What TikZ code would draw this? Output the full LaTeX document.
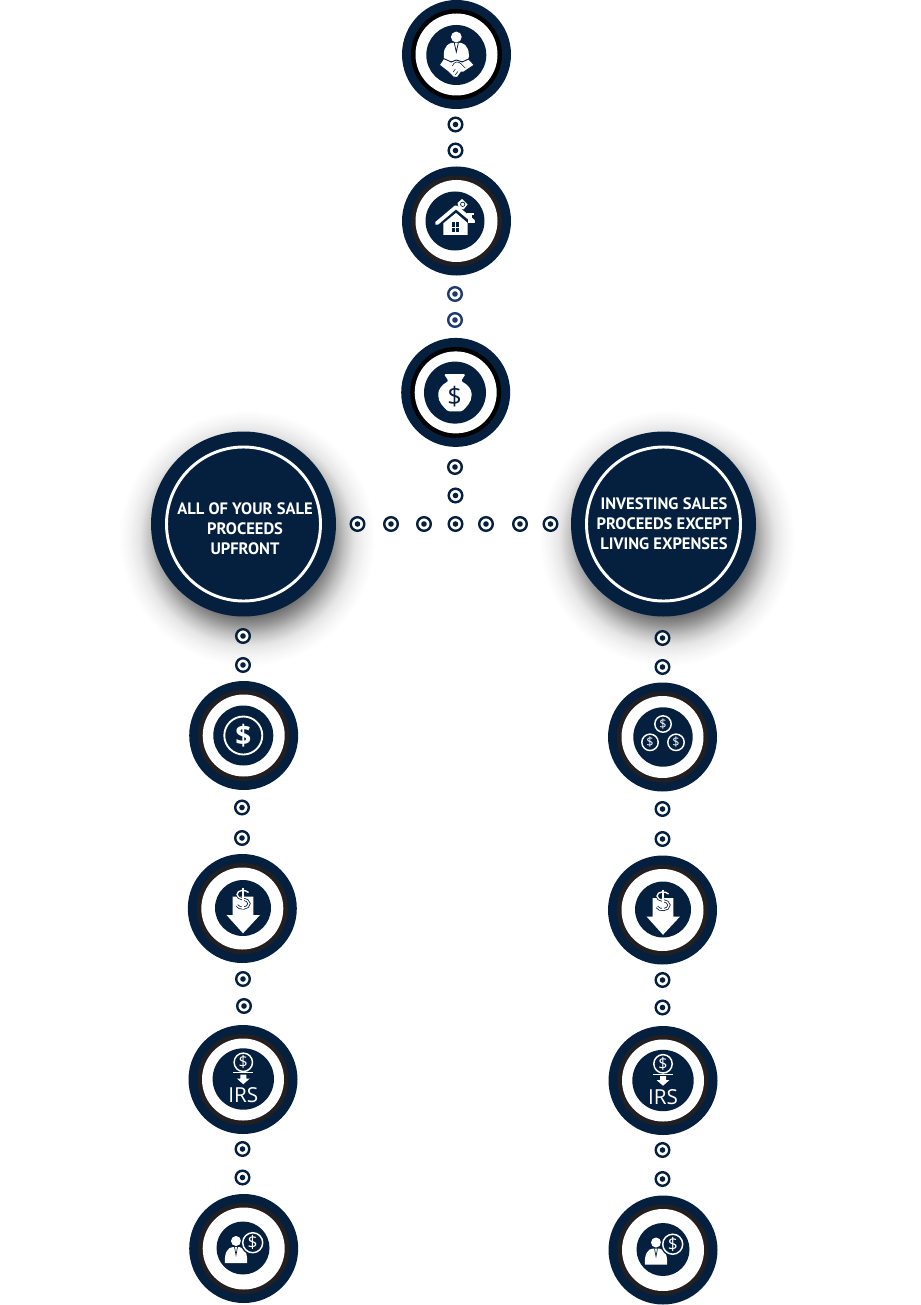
\documentclass[tikz,border=0pt]{standalone}
\usepackage{fontspec}
\setmainfont{Open Sans}
\newfontfamily\labelfont[BoldFont={PT Sans Bold}]{PT Sans}
\definecolor{navy}{HTML}{05203F}
\definecolor{dotblue}{HTML}{1F3A72}
\definecolor{bandgray}{HTML}{231F20}
\pgfdeclareradialshading{softglow}{\pgfpoint{0bp}{0bp}}{
  color(0bp)=(black!62);
  color(14.5bp)=(black!62);
  color(17bp)=(black!42);
  color(19bp)=(black!24);
  color(21bp)=(black!10);
  color(23bp)=(black!4);
  color(25bp)=(white);
  color(50bp)=(white)}
\tikzset{
  x=0.75pt,y=-0.75pt,
  disc/.style={circle,inner sep=0pt,outer sep=0pt,minimum size={2*#1*0.75pt}},
  dotmark/.style={circle,inner sep=0pt,outer sep=0pt,minimum size=10.2pt,line width=1.8pt,
    draw=#1,fill=white,path picture={\fill[#1] (path picture bounding box.center) circle (2.1pt);}},
  dotmark/.default=navy,
  headline/.style={text=white,align=center,font=\labelfont\bfseries\fontsize{12.4}{15}\selectfont,inner sep=0pt},
  glyph/.style={text=white,inner sep=0pt,outer sep=0pt,font=\fontsize{#1}{#1}\selectfont},
}
\newcommand{\badge}[5]{% name x y innerR band
  \node[disc=54.5,fill=navy] (#1) at (#2,#3) {};
  \node[disc=45.5,fill=#5] (#1band) at (#1) {};
  \node[disc=41,fill=white] (#1gap) at (#1) {};
}
\newcommand{\coin}[5]{% name x y r font
  \draw[white,line width=1.1pt] (#2,#3) circle (#4);
  \node[glyph=#5] (#1) at (#2,#3) {\$};
}
\begin{document}
\begin{tikzpicture}
\useasboundingbox (0,0) rectangle (920,1305);
\fill[white] (0,0) rectangle (920,1305);

% soft shadows
\shade[shading=softglow] (247,538) circle (128);
\shade[shading=softglow] (667,538) circle (128);

% big nodes
\node[disc=92.5,fill=navy] (bigL) at (243.5,524) {};
\node[disc=77,draw=white,line width=2.2pt] (bigLring) at (bigL) {};
\node[headline] (bigLtext) at (245,529) {ALL OF YOUR SALE\\PROCEEDS\\UPFRONT};
\node[disc=92.5,fill=navy] (bigR) at (663.5,524) {};
\node[disc=77,draw=white,line width=2.2pt] (bigRring) at (bigR) {};
\node[headline] (bigRtext) at (664,524) {INVESTING SALES\\PROCEEDS EXCEPT\\LIVING EXPENSES};

% badges
\badge{top}{456.5}{54.5}{30}{black}
\badge{house}{456.5}{221}{29.5}{bandgray}
\badge{bag}{455.7}{392.4}{31}{black}
\badge{la}{243.7}{735.5}{30}{bandgray}
\badge{lb}{242.3}{908.5}{28}{bandgray}
\badge{lc}{243}{1079.5}{30.7}{bandgray}
\badge{ld}{243.7}{1248.5}{26.5}{bandgray}
\badge{ra}{662.5}{737}{29.7}{bandgray}
\badge{rb}{662.5}{910}{28}{bandgray}
\badge{rc}{663}{1080.5}{30.7}{bandgray}
\badge{rd}{663}{1250}{26.5}{bandgray}

% inner discs
\node[disc=30,fill=navy] (topin) at (456.3,55) {};
\node[disc=29.5,fill=navy] (housein) at (455,221) {};
\node[disc=31,fill=navy] (bagin) at (455,392.6) {};
\node[disc=30,fill=navy] (lain) at (243.3,735.5) {};
\node[disc=28,fill=navy] (lbin) at (243,908) {};
\node[disc=30.7,fill=navy] (lcin) at (243.3,1079) {};
\node[disc=26.5,fill=navy] (ldin) at (243,1248) {};
\node[disc=29.7,fill=navy] (rain) at (663,737) {};
\node[disc=28,fill=navy] (rbin) at (663,909.5) {};
\node[disc=30.7,fill=navy] (rcin) at (663,1080.5) {};
\node[disc=26.5,fill=navy] (rdin) at (663,1249.5) {};

% --- handshake icon
\begin{scope}[shift={(456.3,55)}]
  \fill[white] (0,-18) circle (5.4);
  \fill[white] (-12,6) .. controls (-13.5,-3) and (-12,-10) .. (-5,-12) -- (5,-12) .. controls (12,-10) and (13.5,-3) .. (12,6) -- cycle;
  \draw[navy,line width=.6pt] (-2,-12) -- (0,-3) -- (2,-12);
  \fill[white,draw=navy,line width=.7pt] (-17,10) -- (-12.7,3.5) -- (-5,7) -- (0,5) -- (6,7) -- (12.3,4) -- (18,10) -- (7.5,17) -- (5,17) -- (1,22.5) -- (-3,22) -- (-8,17) -- cycle;
  \draw[navy,line width=.45pt] (-4,11) .. controls (-2,6) and (2,6) .. (5,9) -- (9,13);
  \draw[navy,line width=.45pt] (-3,17) -- (-1,14) (-1,20) -- (1.5,16.5);
\end{scope}

% --- house icon
\begin{scope}[shift={(455,221)}]
  \draw[white,line width=2.8pt,line cap=round,line join=round] (-18.3,2.3) -- (1,-14) -- (18.5,0.5);
  \fill[white] (-11.7,2.3) -- (1,-8) -- (12.7,2) -- (12.7,14) -- (-11.7,14) -- cycle;
  \fill[white] (13,-7) rectangle (17,2);
  \fill[white] (11.5,-8) rectangle (18.5,-6.2);
  \fill[navy] (-3.3,1.3) rectangle (4,10.7);
  \draw[white,line width=.7pt] (0.35,1.3) -- (0.35,10.7) (-3.3,6) -- (4,6);
  \fill[white] (2.5,-18) -- (7,-22) -- (12.5,-16.5) -- (8.5,-11.5) -- (4,-12.5) -- cycle;
  \draw[navy,line width=.5pt] (7.7,-16.7) circle (2.2);
\end{scope}

% --- money bag icon
\begin{scope}[shift={(455,392.6)}]
  \fill[white,rounded corners=1pt] (-11,-18.5) -- (10.5,-18.5) -- (6,-11.5)
    .. controls (13,-8) and (16.5,-3) .. (16.5,2)
    .. controls (16.5,9) and (12,14) .. (7,18.7) -- (-7,18.7)
    .. controls (-12,14) and (-16.7,9) .. (-16.7,2)
    .. controls (-16.7,-3) and (-13,-8) .. (-6.5,-11.5) -- cycle;
  \node[glyph=19,text=navy] (bagcash) at (-0.5,4) {\$};
\end{scope}

% --- single coin icon
\draw[white,line width=1.4pt] (lain) circle (19);
\node[glyph=21,font=\bfseries\fontsize{21}{21}\selectfont] (lacash) at (243.3,735.5) {\$};

% --- arrow icons
\begin{scope}[shift={(243,908)}]
  \fill[white] (-10.3,-11.3) -- (10.3,-11.3) -- (10.3,7) -- (17,7) -- (0,25.3) -- (-16.5,7) -- (-10.3,7) -- cycle;
  \draw[navy,line width=2.2pt] (5.5,-15.5) .. controls (3,-18.5) and (-6,-18.5) .. (-6,-13.5) .. controls (-6,-8) and (6,-10) .. (6,-4.5) .. controls (6,1) and (-4,1.5) .. (-6,-2.5);
  \draw[navy,line width=2.2pt] (0,-20) -- (0,0.5);
  \draw[white,line width=1pt] (5.5,-15.5) .. controls (3,-18.5) and (-6,-18.5) .. (-6,-13.5) .. controls (-6,-8) and (6,-10) .. (6,-4.5) .. controls (6,1) and (-4,1.5) .. (-6,-2.5);
  \draw[white,line width=1pt] (0,-20) -- (0,0.5);
\end{scope}
\begin{scope}[shift={(663,909.5)}]
  \fill[white] (-10.3,-11.3) -- (10.3,-11.3) -- (10.3,7) -- (17,7) -- (0,25.3) -- (-16.5,7) -- (-10.3,7) -- cycle;
  \draw[navy,line width=2.2pt] (5.5,-15.5) .. controls (3,-18.5) and (-6,-18.5) .. (-6,-13.5) .. controls (-6,-8) and (6,-10) .. (6,-4.5) .. controls (6,1) and (-4,1.5) .. (-6,-2.5);
  \draw[navy,line width=2.2pt] (0,-20) -- (0,0.5);
  \draw[white,line width=1pt] (5.5,-15.5) .. controls (3,-18.5) and (-6,-18.5) .. (-6,-13.5) .. controls (-6,-8) and (6,-10) .. (6,-4.5) .. controls (6,1) and (-4,1.5) .. (-6,-2.5);
  \draw[white,line width=1pt] (0,-20) -- (0,0.5);
\end{scope}

% --- IRS icons
\begin{scope}[shift={(243.3,1079)}]
  \coin{lcash}{0}{-16.7}{9.2}{12}
  \draw[white,line width=.9pt] (-10,-6.3) -- (10,-6.3);
  \fill[white] (-3,-4.5) -- (3,-4.5) -- (3,-0.5) -- (6.5,-0.5) -- (0,5.2) -- (-6.5,-0.5) -- (-3,-0.5) -- cycle;
  \node[glyph=15.5] (lirs) at (0,16.5) {IRS};
\end{scope}
\begin{scope}[shift={(663,1080.5)}]
  \coin{rcash}{0}{-16.7}{9.2}{12}
  \draw[white,line width=.9pt] (-10,-6.3) -- (10,-6.3);
  \fill[white] (-3,-4.5) -- (3,-4.5) -- (3,-0.5) -- (6.5,-0.5) -- (0,5.2) -- (-6.5,-0.5) -- (-3,-0.5) -- cycle;
  \node[glyph=15.5] (rirs) at (0,16.5) {IRS};
\end{scope}

% --- person + coin icons
\begin{scope}[shift={(243,1248)}]
  \fill[white] (-7,-7) circle (5);
  \fill[white] (-18,15) .. controls (-19,5) and (-15,-1) .. (-10,-1) -- (-4,-1) .. controls (1,-1) and (5,5) .. (4,15) -- cycle;
  \draw[navy,line width=.5pt] (-8.5,-1) -- (-7,7) -- (-5.5,-1);
  \fill[navy] (9.7,-5.3) circle (12.2);
  \coin{ldcash}{9.7}{-5.3}{10}{13}
\end{scope}
\begin{scope}[shift={(663,1249.5)}]
  \fill[white] (-7,-7) circle (5);
  \fill[white] (-18,15) .. controls (-19,5) and (-15,-1) .. (-10,-1) -- (-4,-1) .. controls (1,-1) and (5,5) .. (4,15) -- cycle;
  \draw[navy,line width=.5pt] (-8.5,-1) -- (-7,7) -- (-5.5,-1);
  \fill[navy] (9.7,-5.3) circle (12.2);
  \coin{rdcash}{9.7}{-5.3}{10}{13}
\end{scope}

% --- three coins icon
\begin{scope}[shift={(663,737)}]
  \coin{tca}{0}{-13}{8.2}{9.5}
  \coin{tcb}{-13}{5.3}{8.2}{9.5}
  \coin{tcc}{13}{5.3}{8.2}{9.5}
\end{scope}

% dots
\foreach \n/\x/\y in {a1/455.5/124.5,a2/455.5/150.5,c1/455/467,c2/455.5/495.5,
  r1/357.5/524,r2/391/524,r3/424/524,r4/455.5/524,r5/486/524,r6/520/524,r7/550.5/524,
  l1/243/636,l2/243/665,l3/242/807.5,l4/242/838,l5/243/979,l6/244/1006,l7/242.5/1149,l8/242.5/1177.5,
  s1/662.5/638,s2/662.5/667,s3/662.5/809,s4/662.5/839,s5/662.5/980,s6/662.5/1007.5,s7/662.5/1150,s8/662.5/1179}
  \node[dotmark] (\n) at (\x,\y) {};
\node[dotmark=dotblue] (b1) at (455,294) {};
\node[dotmark=dotblue] (b2) at (455,320) {};
\end{tikzpicture}
\end{document}
